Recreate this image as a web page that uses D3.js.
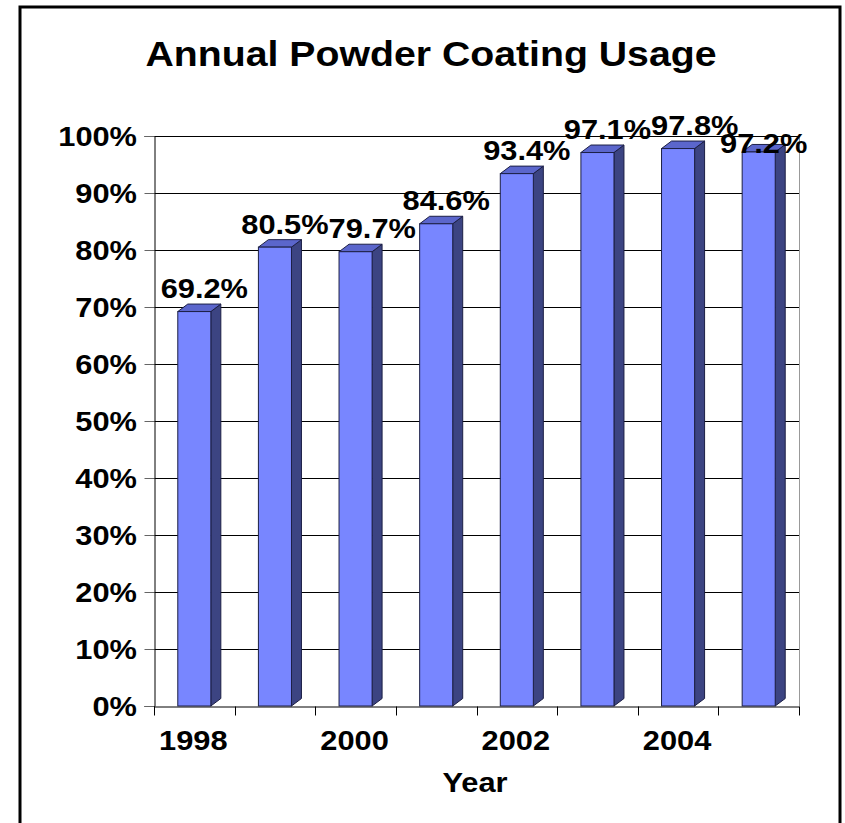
<!DOCTYPE html>
<html>
<head>
<meta charset="utf-8">
<script src="https://cdn.jsdelivr.net/npm/d3@7"></script>
<style>
  body { margin: 0; background: #fff; }
  text { font-family: "Liberation Sans", Arial, sans-serif; font-weight: bold; fill: #000; }
</style>
</head>
<body>
<div id="chart-area"></div>
<script>
// data
var years = ["1998", "1999", "2000", "2001", "2002", "2003", "2004", "2005"];
var usage = [69.2, 80.5, 79.7, 84.6, 93.4, 97.1, 97.8, 97.2];
var yTicks = [0, 10, 20, 30, 40, 50, 60, 70, 80, 90, 100];
var shownYears = ["1998", "2000", "2002", "2004"];

var W = 845, H = 823;
var plot = {left: 154, right: 799, top: 136, bottom: 706};
var sx = 1.1; // text in the original is a bit wide
var depth = {x: 10, y: 7.5};

var svg = d3.select("#chart-area").append("svg")
    .attr("width", W).attr("height", H);

// outer frame
svg.append("rect")
   .attr("x", 20).attr("y", 7)
   .attr("width", 820).attr("height", 830)
   .attr("fill", "none").attr("stroke", "#000").attr("stroke-width", 3);

// scales
var x = d3.scaleBand().domain(years).range([plot.left, plot.right]);
var y = d3.scaleLinear().domain([0, 100]).range([plot.bottom, plot.top]);
var barW = x.bandwidth() * 0.41;

// gridlines
svg.append("g").selectAll("line").data(yTicks.filter(d => d > 0)).enter()
   .append("line")
   .attr("x1", plot.left).attr("x2", plot.right)
   .attr("y1", d => Math.round(y(d)) + 0.5).attr("y2", d => Math.round(y(d)) + 0.5)
   .attr("stroke", "#000").attr("stroke-width", 1);

// right wall edge
svg.append("line")
   .attr("x1", plot.right + 0.5).attr("x2", plot.right + 0.5)
   .attr("y1", plot.top).attr("y2", plot.bottom)
   .attr("stroke", "#999");

// y axis
var leftAxis = d3.axisLeft(y).tickValues(yTicks).tickSize(10).tickFormat(d => "");
var yg = svg.append("g")
   .attr("transform", "translate(" + (plot.left + 0.5) + ",0)")
   .call(leftAxis);
yg.select(".domain").attr("stroke", "#000");
yg.selectAll(".tick line").attr("stroke", "#666");

svg.append("g").selectAll("text").data(yTicks).enter()
   .append("text")
   .attr("text-anchor", "end")
   .attr("font-size", 28)
   .attr("transform", d => "translate(137," + (y(d) + 10) + ") scale(" + sx + ",1)")
   .text(d => d + "%");

// x axis
var bottomAxis = d3.axisBottom(x).tickSize(0).tickFormat(d => "");
var xg = svg.append("g")
   .attr("transform", "translate(0," + (plot.bottom + 0.5) + ")")
   .call(bottomAxis);
xg.select(".domain").attr("stroke", "#000");
xg.selectAll(".tick").remove();
var bounds = years.map(d => x(d)).concat([plot.right]);
xg.selectAll(".bt").data(bounds).enter()
   .append("line")
   .attr("x1", d => Math.round(d) + 0.5).attr("x2", d => Math.round(d) + 0.5)
   .attr("y1", 0).attr("y2", 9)
   .attr("stroke", "#000");

svg.append("g").selectAll("text").data(shownYears).enter()
   .append("text")
   .attr("text-anchor", "middle")
   .attr("font-size", 28)
   .attr("transform", d => "translate(" + (x(d) + x.bandwidth() / 2 - 1) + ",750) scale(" + sx + ",1)")
   .text(d => d);

// 3D bars
var data = years.map((yr, i) => ({year: yr, value: usage[i]}));
var bars = svg.append("g").selectAll("g").data(data).enter().append("g");
function fx(d) { return x(d.year) + (x.bandwidth() - barW) / 2; }

bars.append("path") // side
   .attr("d", d => {
     var x1 = fx(d) + barW, t = y(d.value), b = y(0);
     return "M" + x1 + "," + b + "L" + x1 + "," + t + "L" + (x1 + depth.x) + "," + (t - depth.y) +
            "L" + (x1 + depth.x) + "," + (b - depth.y) + "Z";
   })
   .attr("fill", "#3c4482").attr("stroke", "#1c1f45").attr("stroke-width", 1);

bars.append("path") // top
   .attr("d", d => {
     var x0 = fx(d), t = y(d.value);
     return "M" + x0 + "," + t + "L" + (x0 + depth.x) + "," + (t - depth.y) + "L" + (x0 + barW + depth.x) + "," + (t - depth.y) +
            "L" + (x0 + barW) + "," + t + "Z";
   })
   .attr("fill", "#5b66cc").attr("stroke", "#1c1f45").attr("stroke-width", 1);

bars.append("rect") // front
   .attr("x", fx)
   .attr("y", d => y(d.value))
   .attr("width", barW)
   .attr("height", d => y(0) - y(d.value))
   .attr("fill", "#7886ff").attr("stroke", "#1c1f45").attr("stroke-width", 1);

// value labels, nudged right when they run into the previous one
var fs = 28;
var prev = null;
data.forEach(function(d, i) {
  var label = d.value.toFixed(1) + "%";
  var w = (fs * 0.556 * 3 + fs * 0.278 + fs * 0.889) * sx;
  var cx = fx(d) + barW / 2 + 10;
  var base = y(d.value) - depth.y - 6;
  if (prev && cx - w / 2 < prev.right && Math.abs(base - prev.base) < 20) {
    if (i === data.length - 1) {
      cx = fx(d) + barW / 2 + 5;
      base = y(d.value) + 1;
    } else {
      cx = prev.right + w / 2;
    }
  }
  svg.append("text")
     .attr("text-anchor", "middle")
     .attr("font-size", fs)
     .attr("transform", "translate(" + cx + "," + base + ") scale(" + sx + ",1)")
     .text(label);
  prev = {right: cx + w / 2, base: base};
});

// titles
svg.append("text")
   .attr("text-anchor", "middle")
   .attr("font-size", 36)
   .attr("transform", "translate(431,66) scale(1.09,1)")
   .text("Annual Powder Coating Usage");

svg.append("text")
   .attr("text-anchor", "middle")
   .attr("font-size", 28)
   .attr("transform", "translate(475,792) scale(" + sx + ",1)")
   .text("Year");
</script>
</body>
</html>
